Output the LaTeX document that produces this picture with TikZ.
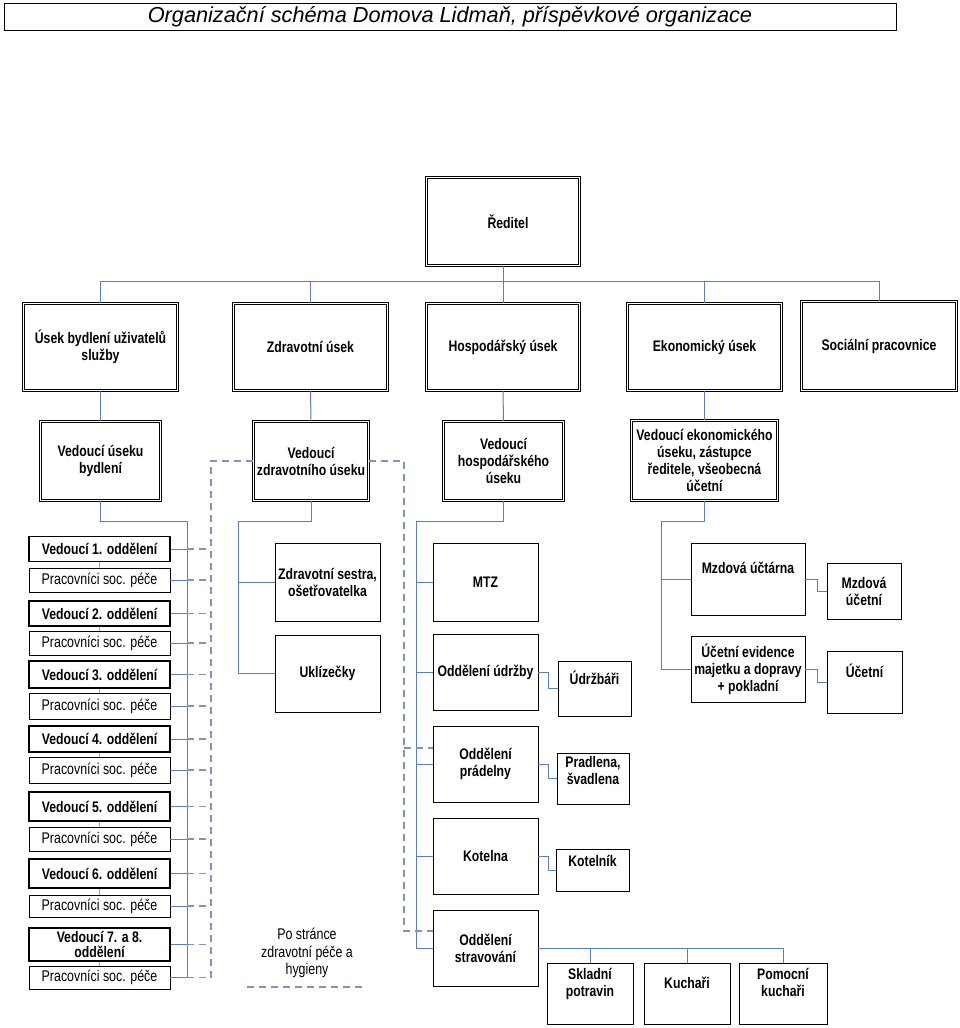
\documentclass[tikz,border=0pt]{standalone}
\usepackage{fontspec}
\setmainfont{Liberation Sans}
\newfontfamily\narrowfam[FakeStretch=0.8]{Liberation Sans}
\usepackage{tikz}
\usetikzlibrary{positioning}
\definecolor{linkc}{HTML}{5A7FB0}
\definecolor{dashc}{HTML}{7F95B2}
\newcommand{\boxfont}{\narrowfam\fontsize{15.3}{17}\selectfont\bfseries}
\newcommand{\plainfont}{\narrowfam\fontsize{15.5}{17.5}\selectfont}
\tikzset{
	dbox/.style={draw, double, line width=0.7pt, double distance=1.4pt, align=center, font=\boxfont, inner sep=1pt},
	box/.style={draw, line width=0.8pt, align=center, font=\boxfont, inner sep=1pt},
	vbox/.style={draw, line width=1.2pt, align=center, font=\boxfont, inner sep=0pt, minimum width=141pt},
	pbox/.style={draw, line width=0.8pt, font=\plainfont, inner sep=0pt, minimum width=141pt},
	lift/.style={text depth=#1},
	conn/.style={draw=linkc, line width=1pt},
	dconn/.style={draw=dashc, line width=1.2pt, dash pattern=on 7pt off 5pt},
}
\begin{document}
\begin{tikzpicture}[x=1pt,y=-1pt]
				\useasboundingbox (0,0) rectangle (960,1028);
				% title
				\node[draw, line width=0.6pt, minimum width=892pt, minimum height=27pt, inner sep=0pt,
					font=\fontsize{21.7}{24}\selectfont\itshape] (title) at (450,16.5)
					{Organizační schéma Domova Lidmaň, příspěvkové organizace};
				% top levels
				\node[dbox, minimum width=153pt, minimum height=88pt] (red) at (503,221.5) {\hspace*{10pt}Ředitel};
				\node[dbox, minimum width=154pt, minimum height=87pt] (ubyd) at (100.5,347) {Úsek bydlení uživatelů\\služby};
				\node[dbox, minimum width=154pt, minimum height=87pt] (uzdr) at (310.5,347) {Zdravotní úsek};
				\node[dbox, minimum width=153pt, minimum height=87pt] (uhos) at (503,347) {Hospodářský úsek};
				\node[dbox, minimum width=154pt, minimum height=87pt] (ueko) at (704.5,347) {Ekonomický úsek};
				\node[dbox, minimum width=155pt, minimum height=89pt] (soc) at (879,346) {Sociální pracovnice};
				\node[dbox, minimum width=120pt, minimum height=79pt] (vbyd) at (100.5,461) {Vedoucí úseku\\bydlení};
				\node[dbox, minimum width=115pt, minimum height=79pt] (vzdr) at (311,461) {Vedoucí\\zdravotního úseku};
				\node[dbox, minimum width=120pt, minimum height=79pt] (vhos) at (503.5,461) {Vedoucí\\hospodářského\\úseku};
				\node[dbox, minimum width=146pt, minimum height=80pt] (veko) at (704.5,460.5) {Vedoucí ekonomického\\úseku, zástupce\\ředitele, všeobecná\\účetní};
				\coordinate (bus) at (503,281);
				\draw[conn] (red.south) -- (bus);
				\draw[conn] (ubyd.north) |- (soc.north |- bus) -- (soc.north);
				\draw[conn] (uzdr.north) -- (uzdr.north |- bus);
				\draw[conn] (uhos.north) -- (uhos.north |- bus);
				\draw[conn] (ueko.north) -- (ueko.north |- bus);
				\draw[conn] (ubyd.south) -- (vbyd.north);
				\draw[conn] (uzdr.south) -- (vzdr.north);
				\draw[conn] (uhos.south) -- (vhos.north);
				\draw[conn] (ueko.south) -- (veko.north);
				% bydleni
				\node[vbox, minimum height=25pt] (l1) at (99.5,549) {Vedoucí 1. oddělení};
				\node[pbox, minimum height=24pt] (p1) at (99.5,580) {Pracovníci soc. péče};
				\node[vbox, minimum height=25pt] (l2) at (99.5,613.5) {Vedoucí 2. oddělení};
				\node[pbox, minimum height=24pt] (p2) at (99.5,643) {Pracovníci soc. péče};
				\node[vbox, minimum height=27pt] (l3) at (99.5,674.5) {Vedoucí 3. oddělení};
				\node[pbox, minimum height=26pt] (p3) at (99.5,706) {Pracovníci soc. péče};
				\node[vbox, minimum height=26pt] (l4) at (99.5,739) {Vedoucí 4. oddělení};
				\node[pbox, minimum height=26pt] (p4) at (99.5,770) {Pracovníci soc. péče};
				\node[vbox, minimum height=29pt] (l5) at (99.5,806.5) {Vedoucí 5. oddělení};
				\node[pbox, minimum height=24pt] (p5) at (99.5,839) {Pracovníci soc. péče};
				\node[vbox, minimum height=29pt] (l6) at (99.5,873.5) {Vedoucí 6. oddělení};
				\node[pbox, minimum height=22pt] (p6) at (99.5,906) {Pracovníci soc. péče};
				\node[vbox, minimum height=33pt, font=\narrowfam\fontsize{15.3}{15}\selectfont\bfseries] (l7) at (99.5,944.5) {Vedoucí 7. a 8.\\oddělení};
				\node[pbox, minimum height=23pt] (p7) at (99.5,977.5) {Pracovníci soc. péče};
				\coordinate (tb) at (187,521);
				\coordinate (dz) at (211,977.5);
				\draw[conn] (vbyd.south) |- (tb) -- (tb |- p7.east);
				\draw[dconn] (vzdr.west) -| (dz);
				\foreach \n in {l1,p1,l2,p2,l3,p3,l4,p4,l5,p5,l6,p6,l7,p7}{
					\draw[conn] (\n.east) -- (\n.east -| tb);
					\draw[dconn] (\n.east -| tb) -- (\n.east -| dz);
				}
				\foreach \a/\b in {l1/p1,l2/p2,l3/p3,l4/p4,l5/p5,l6/p6,l7/p7}
					\draw[conn, draw=gray!70] (\a.south) -- (\b.north);
				% zdravotni
				\node[box, minimum width=105pt, minimum height=78pt] (ses) at (327.5,582) {Zdravotní sestra,\\ošetřovatelka};
				\node[box, minimum width=105pt, minimum height=77pt] (ukl) at (327.5,673.5) {Uklízečky};
				\coordinate (tz) at (238,521);
				\draw[conn] (vzdr.south) |- (tz) |- (ukl.west);
				\draw[conn] (tz |- ses.west) -- (ses.west);
				\node[font=\plainfont, align=center, inner sep=0pt] (leg) at (307,953) {Po stránce\\zdravotní péče a\\hygieny};
				\coordinate (legA) at (247,987);
				\coordinate (legB) at (364,987);
				\draw[dconn] (legA) -- (legB);
				% hospodarsky
				\node[box, minimum width=105pt, minimum height=78pt] (mtz) at (485.5,582) {MTZ};
				\node[box, minimum width=105pt, minimum height=76pt] (udr) at (485.5,672) {Oddělení údržby};
				\node[box, minimum width=73pt, minimum height=55pt, lift=22pt] (udrz) at (594.5,688.5) {Údržbáři};
				\node[box, minimum width=105pt, minimum height=76pt] (prad) at (485.5,764) {Oddělení\\prádelny};
				\node[box, minimum width=72pt, minimum height=51pt, lift=17pt] (pradl) at (593,778.5) {Pradlena,\\švadlena};
				\node[box, minimum width=105pt, minimum height=76pt] (kot) at (485.5,856) {Kotelna};
				\node[box, minimum width=73pt, minimum height=42pt, lift=19pt] (kotn) at (592.5,870) {Kotelník};
				\node[box, minimum width=105pt, minimum height=76pt] (strav) at (485.5,948) {Oddělení\\stravování};
				\node[box, minimum width=86pt, minimum height=61pt, lift=22pt] (skl) at (590,993.5) {Skladní\\potravin};
				\node[box, minimum width=86pt, minimum height=61pt, lift=22pt] (kuch) at (687,993.5) {Kuchaři};
				\node[box, minimum width=88pt, minimum height=61pt, lift=22pt] (pom) at (783,993.5) {Pomocní\\kuchaři};
				\coordinate (th) at (416,521);
				\coordinate (dh) at (404,931);
				\draw[conn] (vhos.south) |- (th) |- (strav.west);
				\foreach \n in {mtz,udr,prad,kot}
					\draw[conn] (th |- \n.west) -- (\n.west);
				\draw[conn] (udr.east) -- ++(10,0) |- (udrz.west);
				\draw[conn] (prad.east) -- ++(10,0) |- (pradl.west);
				\draw[conn] (kot.east) -- ++(10,0) |- (kotn.west);
				\draw[conn] (strav.east) -| (pom.north);
				\draw[conn] (skl.north) -- (skl.north |- strav.east);
				\draw[conn] (kuch.north) -- (kuch.north |- strav.east);
				\draw[dconn] (vzdr.east) -| (dh) -- ([yshift=17pt]strav.west);
				\draw[dconn] (dh |- prad.west) ++(0,-16) -- ([yshift=16pt]prad.west);
				% ekonomicky
				\node[box, minimum width=114pt, minimum height=72pt, lift=22pt] (mzd) at (748,579) {Mzdová účtárna};
				\node[box, minimum width=74pt, minimum height=56pt] (mzdu) at (864,591) {Mzdová\\účetní};
				\node[box, minimum width=114pt, minimum height=66pt] (uce) at (748,669) {Účetní evidence\\majetku a dopravy\\+ pokladní};
				\node[box, minimum width=75pt, minimum height=62pt, lift=22pt] (ucet) at (864.5,682) {Účetní};
				\coordinate (te) at (661,521);
				\draw[conn] (veko.south) |- (te) |- (uce.west);
				\draw[conn] (te |- mzd.west) -- (mzd.west);
				\draw[conn] (mzd.east) -- ++(12,0) |- (mzdu.west);
				\draw[conn] (uce.east) -- ++(12,0) |- (ucet.west);
			\end{tikzpicture}
\end{document}
